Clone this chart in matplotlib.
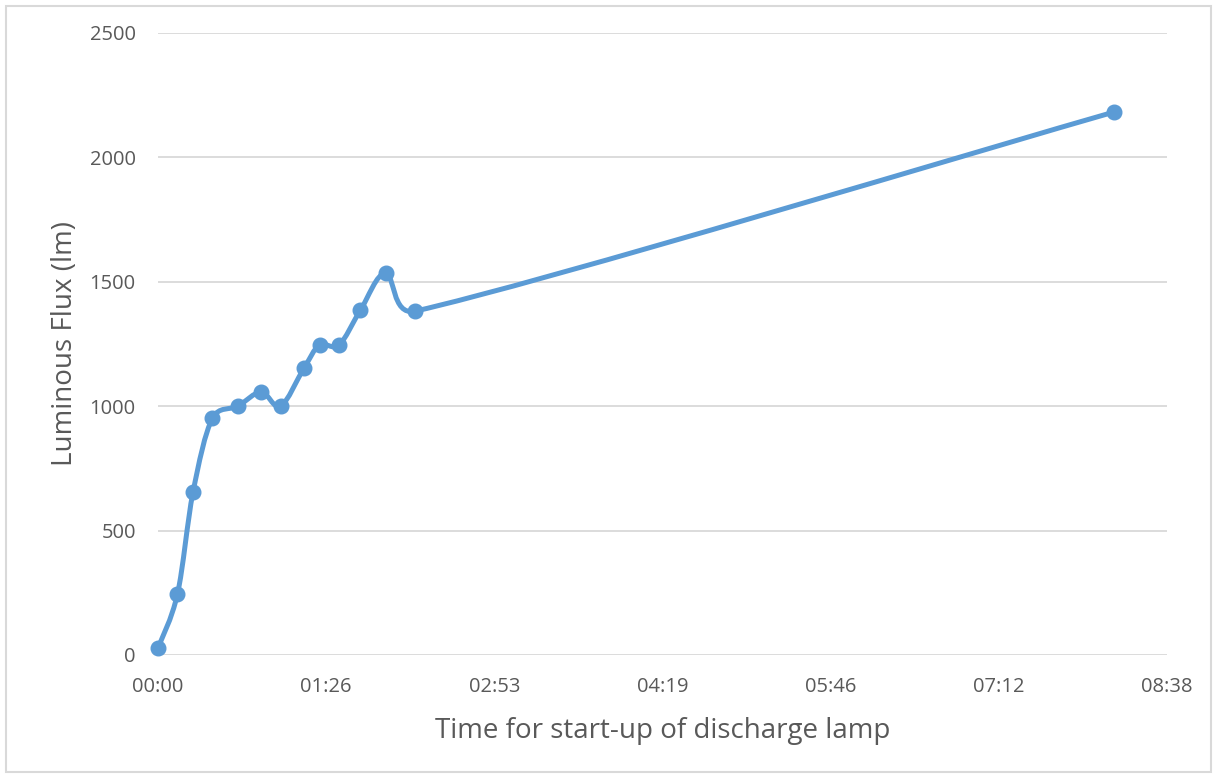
import numpy as np
import matplotlib.pyplot as plt
from matplotlib.path import Path
from matplotlib.patches import PathPatch, Rectangle
from matplotlib.ticker import FixedLocator

plt.rcParams["font.family"] = ["Open Sans", "DejaVu Sans"]

# time since switch-on (seconds) and luminous flux (lm)
time_s = [0, 10, 18, 28, 41, 53, 63, 75, 83, 93, 104, 117, 132, 491]
flux_lm = [28, 245, 655, 952, 1000, 1057, 1000, 1153, 1246, 1246, 1386, 1535, 1382, 2182]

x_ticks = [0, 86.4, 172.8, 259.2, 345.6, 432.0, 518.4]
x_labels = ["00:00", "01:26", "02:53", "04:19", "05:46", "07:12", "08:38"]
y_ticks = [0, 500, 1000, 1500, 2000, 2500]

LINE = "#5B9BD5"
GRID = "#D9D9D9"
TEXT = "#595959"


def smooth_path(xs, ys, sx, sy):
    # Excel-like smoothed line: cubic Bezier, tangent (p_next - p_prev)/6,
    # control distance capped at half of the segment length
    pts = np.column_stack([np.asarray(xs, float) * sx, np.asarray(ys, float) * sy])
    n = len(pts)
    verts = [pts[0]]
    codes = [Path.MOVETO]
    for i in range(n - 1):
        p0 = pts[i - 1] if i > 0 else pts[i]
        p1 = pts[i]
        p2 = pts[i + 1]
        p3 = pts[i + 2] if i + 2 < n else pts[i + 1]
        seg = np.linalg.norm(p2 - p1)
        t1 = (p2 - p0) / 6.0
        t2 = (p3 - p1) / 6.0
        if np.linalg.norm(t1) > seg / 2:
            t1 = t1 / np.linalg.norm(t1) * seg / 2
        if np.linalg.norm(t2) > seg / 2:
            t2 = t2 / np.linalg.norm(t2) * seg / 2
        verts += [p1 + t1, p2 - t2, p2]
        codes += [Path.CURVE4] * 3
    verts = np.array(verts)
    verts[:, 0] /= sx
    verts[:, 1] /= sy
    return Path(verts, codes)


fig = plt.figure(figsize=(12.17, 7.77), dpi=100)
ax = fig.add_axes([158 / 1217, 1 - 655 / 777, (1167 - 158) / 1217, (655 - 33) / 777])

ax.set_xlim(0, 518.4)
ax.set_ylim(0, 2500)

# pixel scale so the smoothing works in screen space
sx = 1009 / 518.4
sy = 622 / 2500
path = smooth_path(time_s, flux_lm, sx, sy)
ax.add_patch(PathPatch(path, facecolor="none", edgecolor=LINE, lw=3.6,
                       capstyle="round", joinstyle="round", zorder=3, clip_on=False))
ax.plot(time_s, flux_lm, "o", color=LINE, markersize=10.5, zorder=4, clip_on=False)

ax.yaxis.set_major_locator(FixedLocator(y_ticks))
ax.xaxis.set_major_locator(FixedLocator(x_ticks))
ax.set_xticklabels(x_labels)
ax.grid(axis="y", color=GRID, lw=1.3)
ax.set_axisbelow(True)
for s in ax.spines.values():
    s.set_visible(False)
ax.tick_params(length=0, labelsize=14.5, labelcolor=TEXT)
ax.tick_params(axis="x", pad=16)
ax.tick_params(axis="y", pad=16)

ax.set_xlabel("Time for start-up of discharge lamp", fontsize=20, color=TEXT, labelpad=14)
ax.set_ylabel("Luminous Flux (lm)", fontsize=20, color=TEXT, labelpad=8)

fig.add_artist(Rectangle((6 / 1217, 5 / 777), 1205 / 1217, 766 / 777,
                         transform=fig.transFigure, fill=False, edgecolor=GRID, lw=1.5))

fig.savefig("out.png", dpi=100)
